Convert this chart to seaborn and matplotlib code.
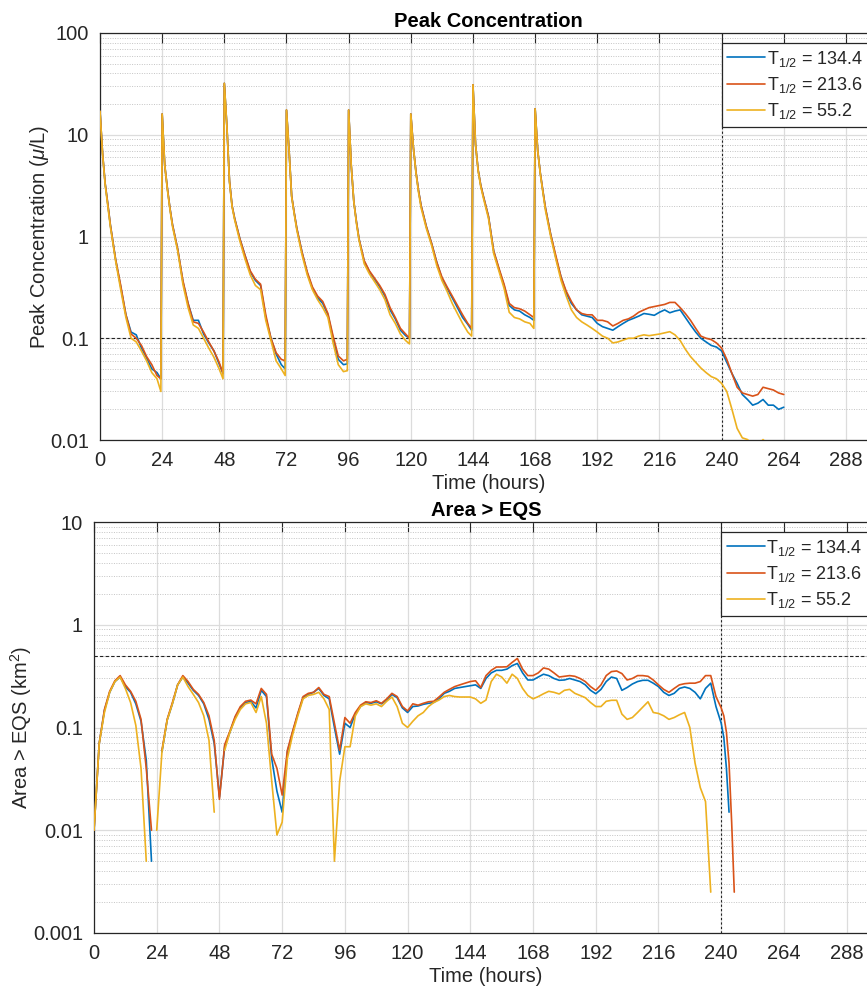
import numpy as np
import pandas as pd
import matplotlib
matplotlib.use("Agg")
import matplotlib.pyplot as plt
import matplotlib.ticker as mticker
from matplotlib.lines import Line2D
import seaborn as sns

nan = np.nan

# ---- series ----
SERIES = [r"T$_{\mathrm{1/2}}$ = 134.4", r"T$_{\mathrm{1/2}}$ = 213.6", r"T$_{\mathrm{1/2}}$ = 55.2"]
COLORS = ["#0072BD", "#D95319", "#EDB120"]

# ---- peak concentration: time grid (hours) ----
DOSE_TIMES = [0, 24, 48, 72, 96, 120, 144]
CYCLE_OFFSETS = [0, 1, 2, 3, 4, 6, 8, 10, 12, 14, 16, 18, 20, 22, 23.5]
TAIL_TIMES = [168, 169, 170, 171, 172] + list(range(174, 266, 2))

# one row of 15 values per dosing cycle, then the tail after the last dose
PEAK_BLUE = [
    17, 6.5, 3.3, 2.1, 1.3, 0.6, 0.32, 0.17, 0.115, 0.108, 0.08, 0.064, 0.05, 0.046, 0.04,
    16, 5, 3.0, 1.9, 1.3, 0.75, 0.36, 0.22, 0.15, 0.15, 0.11, 0.09, 0.075, 0.056, 0.045,
    32, 12, 3.5, 2.0, 1.5, 0.95, 0.65, 0.45, 0.37, 0.33, 0.16, 0.1, 0.07, 0.055, 0.05,
    17.5, 7, 2.5, 1.7, 1.2, 0.7, 0.44, 0.31, 0.25, 0.22, 0.17, 0.1, 0.062, 0.055, 0.056,
    17.5, 5, 2.2, 1.4, 0.95, 0.57, 0.45, 0.38, 0.32, 0.26, 0.19, 0.155, 0.12, 0.106, 0.1,
    16, 7.5, 4.3, 2.8, 2.0, 1.25, 0.86, 0.56, 0.39, 0.31, 0.25, 0.2, 0.16, 0.137, 0.12,
    31, 8, 4.5, 3.2, 2.5, 1.57, 0.72, 0.48, 0.33, 0.21, 0.19, 0.185, 0.17, 0.16, 0.15,
]
PEAK_BLUE_TAIL = [
    18, 7, 4.2, 2.8, 1.9, 1.05, 0.62, 0.4, 0.28, 0.22, 0.19, 0.17, 0.165, 0.16, 0.14,
    0.13, 0.125, 0.12, 0.13, 0.14, 0.15, 0.157, 0.165, 0.175, 0.172,
    0.168, 0.18, 0.19, 0.178, 0.185, 0.19, 0.16, 0.135, 0.115, 0.1,
    0.092, 0.085, 0.082, 0.075, 0.058, 0.045, 0.036, 0.028, 0.025, 0.022,
    0.023, 0.025, 0.022, 0.022, 0.02, 0.021,
]
PEAK_RED = [
    17, 6.5, 3.3, 2.1, 1.3, 0.6, 0.33, 0.17, 0.11, 0.1, 0.085, 0.066, 0.055, 0.043, 0.04,
    16, 5, 3.0, 1.9, 1.3, 0.75, 0.37, 0.22, 0.145, 0.14, 0.115, 0.092, 0.075, 0.058, 0.045,
    32, 12, 3.5, 2.0, 1.5, 0.95, 0.65, 0.46, 0.38, 0.34, 0.17, 0.1, 0.072, 0.062, 0.06,
    17.5, 7, 2.5, 1.7, 1.2, 0.7, 0.45, 0.32, 0.26, 0.23, 0.175, 0.105, 0.067, 0.06, 0.062,
    17.5, 5, 2.2, 1.4, 0.95, 0.58, 0.46, 0.39, 0.33, 0.27, 0.2, 0.16, 0.125, 0.11, 0.1,
    16, 7.5, 4.3, 2.8, 2.0, 1.25, 0.86, 0.56, 0.4, 0.32, 0.26, 0.21, 0.17, 0.14, 0.125,
    31, 8, 4.5, 3.2, 2.5, 1.57, 0.72, 0.49, 0.34, 0.22, 0.2, 0.195, 0.185, 0.17, 0.16,
]
PEAK_RED_TAIL = [
    18, 7, 4.2, 2.8, 1.9, 1.05, 0.65, 0.4, 0.29, 0.23, 0.19, 0.175, 0.17, 0.17, 0.15,
    0.15, 0.145, 0.132, 0.14, 0.15, 0.155, 0.165, 0.18, 0.19, 0.2,
    0.205, 0.21, 0.215, 0.225, 0.225, 0.2, 0.175, 0.15, 0.125, 0.105,
    0.1, 0.097, 0.09, 0.08, 0.062, 0.045, 0.033, 0.029, 0.028, 0.027,
    0.028, 0.033, 0.032, 0.031, 0.029, 0.028,
]
PEAK_YELLOW = [
    17, 6.4, 3.2, 2.0, 1.25, 0.58, 0.3, 0.16, 0.1, 0.092, 0.075, 0.06, 0.046, 0.04, 0.03,
    16, 5, 2.9, 1.85, 1.25, 0.72, 0.34, 0.2, 0.135, 0.125, 0.1, 0.08, 0.065, 0.05, 0.04,
    32, 12, 3.4, 1.95, 1.45, 0.9, 0.6, 0.42, 0.33, 0.3, 0.15, 0.095, 0.06, 0.05, 0.043,
    17.5, 7, 2.45, 1.65, 1.15, 0.66, 0.42, 0.3, 0.24, 0.2, 0.16, 0.09, 0.055, 0.047, 0.048,
    17.5, 5, 2.2, 1.35, 0.92, 0.54, 0.43, 0.36, 0.3, 0.24, 0.17, 0.14, 0.11, 0.095, 0.088,
    16, 7.5, 4.2, 2.7, 1.9, 1.2, 0.82, 0.52, 0.37, 0.29, 0.22, 0.175, 0.14, 0.115, 0.105,
    31, 8, 4.4, 3.1, 2.4, 1.5, 0.68, 0.46, 0.31, 0.18, 0.16, 0.155, 0.145, 0.14, 0.125,
]
PEAK_YELLOW_TAIL = [
    18, 7, 4.1, 2.7, 1.8, 1.0, 0.6, 0.37, 0.26, 0.19, 0.16, 0.145, 0.135, 0.125, 0.115,
    0.105, 0.1, 0.09, 0.092, 0.096, 0.1, 0.1, 0.105, 0.108, 0.106,
    0.108, 0.11, 0.113, 0.116, 0.108, 0.095, 0.078, 0.066, 0.058, 0.051,
    0.046, 0.042, 0.04, 0.036, 0.03, 0.02, 0.013, 0.0105, 0.0101, 0.009,
    0.0088, 0.0101, 0.009, 0.008, 0.0075, 0.007,
]

# ---- area > EQS: time grid (hours); nan = no area above EQS ----
AREA_TIMES = list(range(0, 240, 2)) + [240, 241, 242, 243, 244, 245]

AREA_BLUE = [
    0.01, 0.07, 0.147, 0.22, 0.28, 0.31, 0.25, 0.22, 0.17, 0.115, 0.048, 0.005,
    nan, 0.058, 0.118, 0.17, 0.26, 0.31, 0.27, 0.23, 0.205, 0.17, 0.12, 0.07,
    0.021, 0.065, 0.09, 0.125, 0.155, 0.175, 0.18, 0.155, 0.23, 0.2, 0.05, 0.024,
    0.015, 0.058, 0.09, 0.135, 0.195, 0.21, 0.22, 0.24, 0.205, 0.19, 0.1, 0.055,
    0.11, 0.1, 0.136, 0.16, 0.175, 0.172, 0.178, 0.17, 0.185, 0.21, 0.195, 0.155,
    0.14, 0.16, 0.162, 0.168, 0.172, 0.175, 0.19, 0.215, 0.225, 0.24, 0.245, 0.25,
    0.255, 0.26, 0.24, 0.3, 0.34, 0.36, 0.36, 0.37, 0.4, 0.42, 0.34, 0.29,
    0.29, 0.31, 0.33, 0.32, 0.3, 0.288, 0.29, 0.3, 0.29, 0.28, 0.26, 0.23,
    0.213, 0.235, 0.28, 0.31, 0.3, 0.23, 0.245, 0.265, 0.28, 0.288, 0.288, 0.27,
    0.25, 0.22, 0.205, 0.215, 0.24, 0.248, 0.24, 0.22, 0.19, 0.24, 0.27, 0.16,
    0.11, 0.08, 0.04, 0.015, nan, nan,
]
AREA_RED = [
    0.01, 0.07, 0.15, 0.225, 0.285, 0.32, 0.26, 0.225, 0.18, 0.12, 0.04, 0.01,
    nan, 0.06, 0.12, 0.175, 0.26, 0.32, 0.28, 0.235, 0.21, 0.175, 0.13, 0.075,
    0.02, 0.068, 0.092, 0.128, 0.16, 0.18, 0.185, 0.17, 0.24, 0.21, 0.055, 0.04,
    0.022, 0.06, 0.092, 0.138, 0.2, 0.215, 0.22, 0.245, 0.21, 0.2, 0.11, 0.06,
    0.125, 0.11, 0.14, 0.165, 0.178, 0.175, 0.182, 0.172, 0.19, 0.215, 0.2, 0.16,
    0.145, 0.17, 0.165, 0.172, 0.178, 0.18, 0.198, 0.22, 0.235, 0.25, 0.26, 0.27,
    0.28, 0.285, 0.245, 0.32, 0.36, 0.388, 0.388, 0.39, 0.43, 0.47, 0.37, 0.32,
    0.32, 0.34, 0.38, 0.37, 0.34, 0.31, 0.315, 0.32, 0.315, 0.3, 0.28, 0.25,
    0.23, 0.26, 0.32, 0.35, 0.355, 0.335, 0.29, 0.3, 0.32, 0.32, 0.315, 0.29,
    0.26, 0.235, 0.22, 0.24, 0.26, 0.267, 0.27, 0.27, 0.28, 0.32, 0.32, 0.2,
    0.155, 0.13, 0.09, 0.045, 0.012, 0.0025,
]
AREA_YELLOW = [
    0.01, 0.07, 0.14, 0.22, 0.28, 0.31, 0.24, 0.175, 0.105, 0.04, 0.005, nan,
    0.01, 0.058, 0.118, 0.17, 0.26, 0.31, 0.25, 0.21, 0.175, 0.13, 0.075, 0.015,
    nan, 0.06, 0.09, 0.12, 0.15, 0.17, 0.175, 0.14, 0.2, 0.11, 0.03, 0.009,
    0.012, 0.05, 0.085, 0.13, 0.19, 0.205, 0.21, 0.22, 0.19, 0.15, 0.005, 0.03,
    0.065, 0.065, 0.13, 0.16, 0.17, 0.165, 0.17, 0.16, 0.18, 0.198, 0.16, 0.11,
    0.1, 0.115, 0.13, 0.14, 0.16, 0.175, 0.185, 0.2, 0.205, 0.2, 0.198, 0.198,
    0.198, 0.19, 0.172, 0.185, 0.28, 0.33, 0.31, 0.27, 0.33, 0.3, 0.24, 0.205,
    0.19, 0.2, 0.213, 0.225, 0.22, 0.212, 0.23, 0.235, 0.215, 0.205, 0.195, 0.175,
    0.16, 0.16, 0.18, 0.184, 0.184, 0.135, 0.12, 0.125, 0.14, 0.158, 0.178, 0.14,
    0.137, 0.13, 0.12, 0.125, 0.133, 0.14, 0.1, 0.045, 0.026, 0.019, 0.0025, nan,
    nan, nan, nan, nan, nan, nan,
]

PEAK_LIMIT = 0.1
AREA_LIMIT = 0.5
END_TIME = 240


def to_long(times, series_values):
    # long table; a new segment starts after every missing value so lines break there
    rows = []
    for name, vals in zip(SERIES, series_values):
        seg = 0
        for t, v in zip(times, vals):
            if np.isnan(v):
                seg += 1
                continue
            rows.append((t, v, name, seg))
    return pd.DataFrame(rows, columns=["time", "value", "series", "seg"])


peak_times = [d + o for d in DOSE_TIMES for o in CYCLE_OFFSETS] + TAIL_TIMES
peak_df = to_long(peak_times, [PEAK_BLUE + PEAK_BLUE_TAIL,
                               PEAK_RED + PEAK_RED_TAIL,
                               PEAK_YELLOW + PEAK_YELLOW_TAIL])
area_df = to_long(AREA_TIMES, [AREA_BLUE, AREA_RED, AREA_YELLOW])

sns.set_style("white")
plt.rcParams["font.family"] = ["Liberation Sans", "DejaVu Sans"]
plt.rcParams["mathtext.fontset"] = "custom"
plt.rcParams["mathtext.rm"] = "Liberation Sans"
plt.rcParams["mathtext.it"] = "Liberation Sans:italic"
plt.rcParams["mathtext.bf"] = "Liberation Sans:bold"

FS = 14.5
palette = dict(zip(SERIES, COLORS))

fig = plt.figure(figsize=(8.67, 9.89), dpi=100)
ax1 = fig.add_axes([100 / 867, 1 - 440 / 989, 777 / 867, 407 / 989])
ax2 = fig.add_axes([94 / 867, 1 - 933 / 989, 784 / 867, 411 / 989])

panels = [
    (ax1, peak_df, (0.01, 100), [0.01, 0.1, 1, 10, 100], ["0.01", "0.1", "1", "10", "100"],
     PEAK_LIMIT, "Peak Concentration", r"Peak Concentration ($\mu$/L)", -0.063),
    (ax2, area_df, (0.001, 10), [0.001, 0.01, 0.1, 1, 10], ["0.001", "0.01", "0.1", "1", "10"],
     AREA_LIMIT, "Area > EQS", r"Area > EQS (km$^{\mathrm{2}}$)", -0.076),
]

for ax, df, ylim, yt, ytl, limit, title, ylabel, ylab_x in panels:
    ax.set_yscale("log")
    sns.lineplot(data=df, x="time", y="value", hue="series", hue_order=SERIES,
                 palette=palette, units="seg", estimator=None, linewidth=1.2,
                 legend=False, ax=ax, zorder=3)
    ax.set_xlim(0, 300)
    ax.set_ylim(*ylim)
    ax.set_xticks(range(0, 300, 24))
    ax.yaxis.set_major_locator(mticker.FixedLocator(yt))
    ax.yaxis.set_major_formatter(mticker.FixedFormatter(ytl))
    ax.yaxis.set_minor_locator(mticker.LogLocator(base=10, subs=range(2, 10), numticks=20))
    ax.yaxis.set_minor_formatter(mticker.NullFormatter())
    ax.tick_params(axis="both", which="major", direction="in", length=7, width=0.8,
                   labelsize=FS, colors="#262626", top=True)
    ax.tick_params(axis="x", which="major", pad=8)
    ax.tick_params(axis="y", which="major", pad=8)
    ax.tick_params(axis="y", which="minor", direction="in", length=4, width=0.6, colors="#262626")
    ax.tick_params(axis="x", which="minor", bottom=False, top=False)
    ax.grid(True, which="major", color="#dcdcdc", linewidth=0.9, linestyle="-", zorder=0)
    ax.grid(True, which="minor", axis="y", color="#c4c4c4", linewidth=0.7, linestyle=(0, (1, 1.5)), zorder=0)
    ax.set_axisbelow(True)
    for s in ax.spines.values():
        s.set_color("#262626")
        s.set_linewidth(0.9)
    ax.axhline(limit, color="#222222", linestyle=(0, (3, 2)), linewidth=0.8, zorder=2)
    ax.axvline(END_TIME, color="#222222", linestyle=(0, (2, 2)), linewidth=0.8, zorder=2)
    ax.set_title(title, fontsize=FS, fontweight="bold", pad=4, color="black")
    ax.set_xlabel("Time (hours)", fontsize=FS, labelpad=3, color="#262626")
    ax.set_ylabel(ylabel, fontsize=FS, color="#262626")
    ax.yaxis.set_label_coords(ylab_x, 0.5)

    handles = [Line2D([0], [0], color=c, lw=1.2) for c in COLORS]
    leg = ax.legend(handles, SERIES, loc="upper left", bbox_to_anchor=(0.8, 0.975),
                    fontsize=13, frameon=True, fancybox=False, framealpha=1,
                    edgecolor="#262626", handlelength=2.1, handletextpad=0.1,
                    labelspacing=0.35, borderpad=0.3, borderaxespad=0)
    leg.get_frame().set_linewidth(0.9)
    leg.set_zorder(5)

fig.savefig("out.png", dpi=100)
